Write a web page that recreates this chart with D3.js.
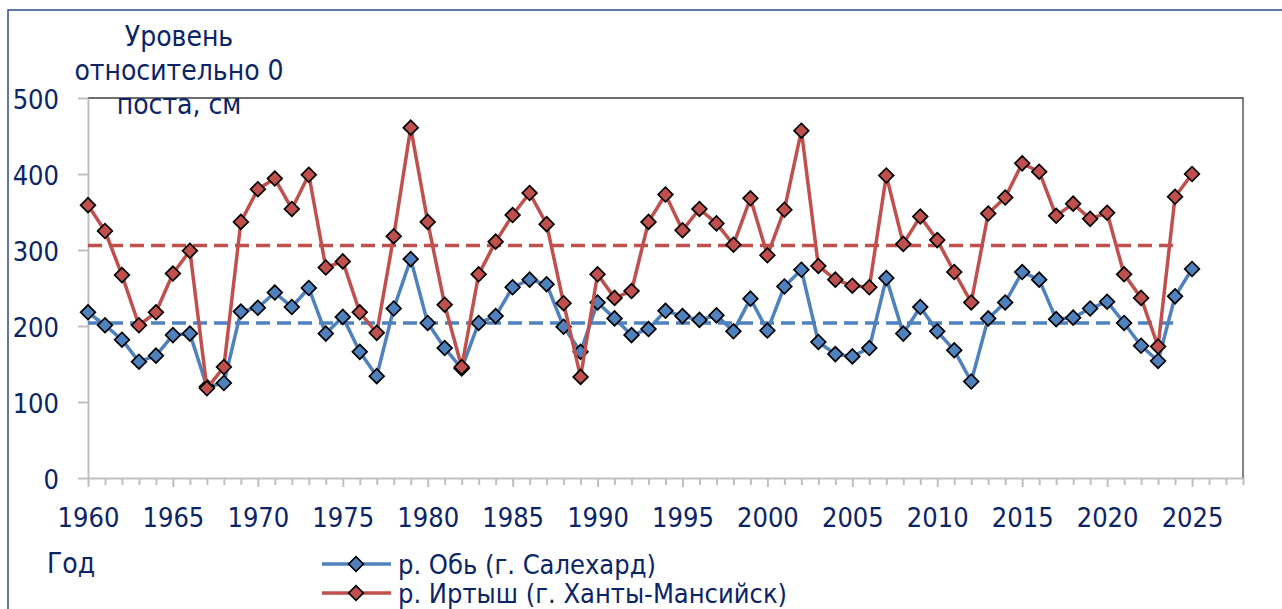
<!DOCTYPE html>
<html>
<head>
<meta charset="utf-8">
<script src="https://cdn.jsdelivr.net/npm/d3@7"></script>
<style>
  body { margin: 0; background: #fff; }
  svg text { font-family: "DejaVu Sans Condensed", "DejaVu Sans", sans-serif; fill: #0b2466; }
</style>
</head>
<body>
<div class="chart"></div>
<script>
// годы наблюдений
const years = d3.range(1960, 2026)

// уровень воды относительно 0 поста, см
const obLevels = [
  218, 201, 182, 153, 161, 188, 190, 120, 125, 219,
  224, 244, 225, 250, 190, 212, 166, 134, 223, 288,
  204, 171, 144, 204, 213, 251, 261, 255, 199, 166,
  231, 210, 188, 196, 220, 213, 208, 214, 193, 236,
  194, 252, 274, 179, 163, 160, 171, 263, 190, 225,
  193, 168, 127, 210, 231, 271, 261, 209, 211, 223,
  232, 204, 174, 154, 239, 275
]
const irtyshLevels = [
  359, 325, 267, 201, 218, 269, 299, 118, 146, 337,
  380, 394, 354, 399, 277, 285, 218, 191, 318, 461,
  337, 228, 146, 268, 311, 346, 375, 334, 230, 133,
  268, 237, 246, 337, 373, 326, 354, 335, 307, 368,
  293, 353, 457, 279, 261, 253, 251, 398, 308, 344,
  313, 271, 231, 348, 369, 414, 403, 345, 361, 341,
  349, 268, 237, 173, 370, 400
]

// средние многолетние (пунктир)
const meanYears = [1960, 2024]
const obMean = [204, 204]
const irtyshMean = [306, 306]

const yTicks = [0, 100, 200, 300, 400, 500]
const titleLines = ["Уровень", "относительно 0", "поста, см"]
const seriesNames = ["р. Обь (г. Салехард)", "р. Иртыш (г. Ханты-Мансийск)"]
const colors = ["#4f81bd", "#c0504d"]

const width = 1282
const height = 609
const tickFont = 27
const labelFont = 28
const legendFont = 27

const svg = d3.select(".chart").append("svg")
  .attr("width", width)
  .attr("height", height)

// рамка диаграммы
svg.append("rect")
  .attr("x", 8).attr("y", 10)
  .attr("width", 1300).attr("height", 700)
  .attr("fill", "none")
  .attr("stroke", "#2f4b8c")
  .attr("stroke-width", 1.5)

const x = d3.scaleLinear().domain([1960, 2028]).range([88, 1243])
const y = d3.scaleLinear().domain([0, 500]).range([478, 98])

// граница области построения
svg.append("path")
  .attr("d", `M${x(1960)},${y(500)}H${x(2028)}V${y(0)}`)
  .attr("fill", "none")
  .attr("stroke", "#404040")
  .attr("stroke-width", 1.3)

// ось Y
const yAxis = svg.append("g")
  .attr("transform", `translate(${x(1960)},0)`)
  .call(d3.axisLeft(y).tickValues(yTicks).tickSize(10).tickSizeOuter(0).tickPadding(19))
yAxis.attr("font-family", null).attr("font-size", null)
yAxis.select(".domain").attr("stroke", "#bfbfbf").attr("stroke-width", 2)
yAxis.selectAll(".tick line").attr("stroke", "#bfbfbf").attr("stroke-width", 2)
yAxis.selectAll(".tick text")
  .attr("font-size", tickFont)
  .attr("dy", "0.38em")

// ось X: метка каждый год, подписи через 5 лет
const xAxis = svg.append("g")
  .attr("transform", `translate(0,${y(0)})`)
  .call(d3.axisBottom(x)
    .tickValues(d3.range(1960, 2029))
    .tickSize(7)
    .tickSizeOuter(0)
    .tickFormat(d => (d % 5 === 0 && d <= 2025) ? d : ""))
xAxis.attr("font-family", null).attr("font-size", null)
xAxis.select(".domain").attr("stroke", "#bfbfbf").attr("stroke-width", 2)
xAxis.selectAll(".tick line")
  .attr("stroke", "#bfbfbf")
  .attr("stroke-width", 2)
  .attr("y2", d => d % 5 === 0 ? 9 : 7)
xAxis.selectAll(".tick text")
  .attr("font-size", tickFont)
  .attr("y", 49)
  .attr("dy", 0)

// подпись оси Y
svg.append("text")
  .attr("text-anchor", "middle")
  .attr("font-size", labelFont)
  .selectAll("tspan")
  .data(titleLines)
  .enter().append("tspan")
  .attr("x", 179)
  .attr("y", (d, i) => 46 + i * 34)
  .text(d => d)

// подпись оси X
svg.append("text")
  .attr("x", 47)
  .attr("y", 573)
  .attr("font-size", labelFont)
  .text("Год")

const line = d3.line()
  .x(d => x(d[0]))
  .y(d => y(d[1]))

// средние значения пунктиром
const means = [obMean, irtyshMean]
means.forEach((m, i) => {
  svg.append("path")
    .attr("d", line(meanYears.map((yr, j) => [yr, m[j]])))
    .attr("fill", "none")
    .attr("stroke", colors[i])
    .attr("stroke-width", 3.5)
    .attr("stroke-dasharray", "14,7")
})

const diamond = d3.symbol().type(d3.symbolSquare).size(108)

// ряды с маркерами
const series = [obLevels, irtyshLevels]
series.forEach((vals, i) => {
  const pts = years.map((yr, j) => [yr, vals[j]])
  svg.append("path")
    .attr("d", line(pts))
    .attr("fill", "none")
    .attr("stroke", colors[i])
    .attr("stroke-width", 3.5)
    .attr("stroke-linejoin", "round")
  svg.append("g")
    .selectAll("path")
    .data(pts)
    .enter().append("path")
    .attr("d", diamond)
    .attr("transform", d => `translate(${x(d[0])},${y(d[1])}) rotate(45)`)
    .attr("fill", colors[i])
    .attr("stroke", "#000")
    .attr("stroke-width", 1.7)
})

// легенда
const legend = svg.append("g")
  .selectAll("g")
  .data(seriesNames)
  .enter().append("g")
  .attr("transform", (d, i) => `translate(0,${574 + i * 29})`)
legend.append("line")
  .attr("x1", 322).attr("x2", 391)
  .attr("y1", -10).attr("y2", -10)
  .attr("stroke", (d, i) => colors[i])
  .attr("stroke-width", 3.5)
legend.append("path")
  .attr("d", diamond)
  .attr("transform", "translate(356,-10) rotate(45)")
  .attr("fill", (d, i) => colors[i])
  .attr("stroke", "#000")
  .attr("stroke-width", 1.7)
legend.append("text")
  .attr("x", 398)
  .attr("font-size", legendFont)
  .text(d => d)
</script>
</body>
</html>
